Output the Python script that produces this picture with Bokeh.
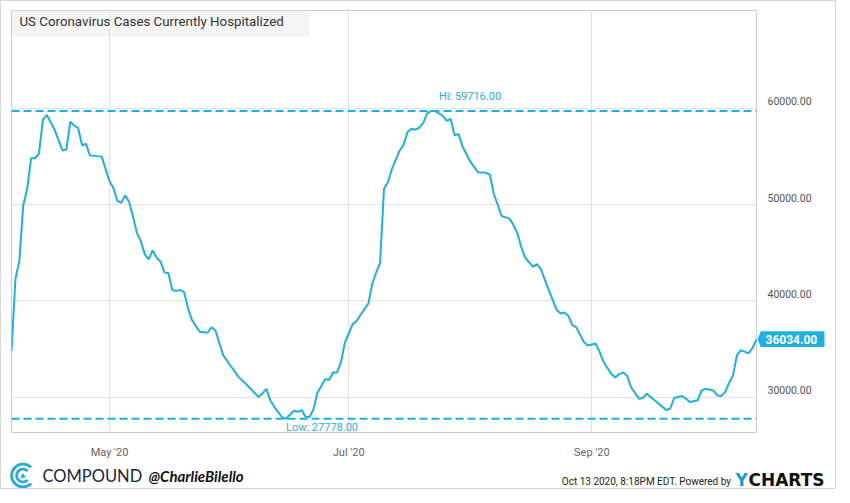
import numpy as np
import pandas as pd
from bokeh.plotting import figure
from bokeh.layouts import row, column
from bokeh.models import (Range1d, LinearAxis, FixedTicker, DatetimeTickFormatter,
                          PrintfTickFormatter, Span, Label, BoxAnnotation, PolyAnnotation,
                          ColumnDataSource)
from bokeh.embed import file_html
from bokeh.resources import INLINE

# ---------------- data ----------------
dates = [
    "2020-04-06", "2020-04-07", "2020-04-08", "2020-04-09", "2020-04-10", "2020-04-11",
    "2020-04-12", "2020-04-13", "2020-04-14", "2020-04-15", "2020-04-17", "2020-04-19",
    "2020-04-20", "2020-04-21", "2020-04-22", "2020-04-23", "2020-04-24", "2020-04-25",
    "2020-04-26", "2020-04-29", "2020-05-01", "2020-05-02", "2020-05-03", "2020-05-04",
    "2020-05-05", "2020-05-06", "2020-05-07", "2020-05-08", "2020-05-09", "2020-05-10",
    "2020-05-11", "2020-05-12", "2020-05-13", "2020-05-14", "2020-05-15", "2020-05-16",
    "2020-05-17", "2020-05-18", "2020-05-19", "2020-05-20", "2020-05-21", "2020-05-22",
    "2020-05-24", "2020-05-26", "2020-05-27", "2020-05-28", "2020-05-29", "2020-05-30",
    "2020-06-01", "2020-06-03", "2020-06-05", "2020-06-08", "2020-06-09", "2020-06-10",
    "2020-06-11", "2020-06-12", "2020-06-14", "2020-06-15", "2020-06-17", "2020-06-18",
    "2020-06-19", "2020-06-20", "2020-06-21", "2020-06-22", "2020-06-23", "2020-06-25",
    "2020-06-26", "2020-06-27", "2020-06-28", "2020-06-29", "2020-06-30", "2020-07-02",
    "2020-07-03", "2020-07-04", "2020-07-06", "2020-07-07", "2020-07-08", "2020-07-09",
    "2020-07-10", "2020-07-11", "2020-07-12", "2020-07-14", "2020-07-15", "2020-07-16",
    "2020-07-17", "2020-07-18", "2020-07-19", "2020-07-20", "2020-07-21", "2020-07-22",
    "2020-07-23", "2020-07-25", "2020-07-26", "2020-07-27", "2020-07-28", "2020-07-29",
    "2020-07-30", "2020-08-01", "2020-08-02", "2020-08-03", "2020-08-05", "2020-08-06",
    "2020-08-07", "2020-08-09", "2020-08-11", "2020-08-12", "2020-08-13", "2020-08-14",
    "2020-08-15", "2020-08-17", "2020-08-18", "2020-08-19", "2020-08-21", "2020-08-23",
    "2020-08-24", "2020-08-25", "2020-08-26", "2020-08-27", "2020-08-28", "2020-08-30",
    "2020-08-31", "2020-09-02", "2020-09-03", "2020-09-04", "2020-09-06", "2020-09-07",
    "2020-09-08", "2020-09-09", "2020-09-10", "2020-09-11", "2020-09-13", "2020-09-14",
    "2020-09-15", "2020-09-18", "2020-09-20", "2020-09-21", "2020-09-22", "2020-09-24",
    "2020-09-25", "2020-09-26", "2020-09-28", "2020-09-29", "2020-09-30", "2020-10-02",
    "2020-10-03", "2020-10-04", "2020-10-05", "2020-10-06", "2020-10-07", "2020-10-08",
    "2020-10-09", "2020-10-11", "2020-10-12", "2020-10-13",
]
values = [
    34800, 42280, 44150, 49930, 51630, 54800,
    54800, 55270, 58780, 59290, 57755, 55610,
    55710, 58600, 58200, 57920, 56150, 56290,
    55100, 54970, 52420, 51700, 50370, 50170,
    50950, 50270, 48740, 47040, 46190, 44830,
    44320, 45240, 44490, 44080, 42960, 42890,
    41150, 41020, 41150, 40920, 39290, 38030,
    36800, 36700, 37270, 36940, 35640, 34360,
    33200, 32070, 31300, 30030, 30400, 30880,
    29690, 29010, 27930, 27778, 28600, 28500,
    28670, 27990, 27950, 28740, 30440, 31910,
    31800, 32580, 32580, 33600, 35640, 37580,
    37920, 38540, 39720, 41760, 42960, 43910,
    51630, 52310, 53670, 55610, 56220, 57520,
    57860, 57760, 57990, 58440, 59460, 59700,
    59716, 59210, 58670, 58880, 57180, 57320,
    56050, 54460, 53910, 53340, 53300, 53090,
    51120, 48810, 48540, 47890, 47040, 45600,
    44490, 43540, 43810, 43300, 41150, 39110,
    38700, 38800, 38470, 37520, 37280, 35710,
    35370, 35580, 34690, 33670, 32410, 32070,
    32410, 32580, 32240, 31050, 29860, 29930,
    30380, 29350, 28670, 28840, 29930, 30130,
    29860, 29520, 29690, 30710, 30880, 30710,
    30200, 30130, 30540, 31500, 32240, 34360,
    34900, 34560, 35130, 36034,
]
x_tick_dates = ["2020-05-01", "2020-07-01", "2020-09-01"]
y_ticks = [30000, 40000, 50000, 60000]
x_start, x_end = "2020-04-06", "2020-10-13"
y_start, y_end = 26350, 70130
title_text = "US Coronavirus Cases Currently Hospitalized"
footer_brand = "COMPOUND"
footer_handle = "@CharlieBilello"
footer_stamp = "Oct 13 2020, 8:18PM EDT.  Powered by"

# ---------------- styles / layout ----------------
BLUE = "#1fb0e2"
FONT = "Roboto"
TOTAL_W = 834
MAIN_W, STRIP_W = 756, 78
TOP_H, FOOT_H = 460, 27
FL, FT, FR, FB = 10, 9, 1, 23
frame_h = TOP_H - FT - FB
upp = (y_end - y_start) / frame_h       # data units per pixel

dt = pd.to_datetime(dates)
src = ColumnDataSource(dict(date=dt, value=values))
yr = Range1d(y_start, y_end)

p = figure(width=MAIN_W, height=TOP_H, output_backend="svg", toolbar_location=None,
           x_axis_type="datetime", y_axis_location=None,
           x_range=Range1d(pd.Timestamp(x_start), pd.Timestamp(x_end)), y_range=yr,
           min_border_left=FL, min_border_top=FT, min_border_right=FR, min_border_bottom=FB)
p.background_fill_color = "white"
p.border_fill_color = "white"
p.outline_line_color = "#cccccc"
p.outline_line_width = 1

xt = [pd.Timestamp(d).value // 10**6 for d in x_tick_dates]
p.xaxis.ticker = FixedTicker(ticks=xt)
fmt = "%b '%y"
p.xaxis.formatter = DatetimeTickFormatter(days=fmt, months=fmt, years=fmt, hours=fmt)
p.xaxis.axis_line_color = None
p.xaxis.major_tick_line_color = None
p.xaxis.minor_tick_line_color = None
p.xaxis.major_label_text_font = FONT
p.xaxis.major_label_text_font_size = "11px"
p.xaxis.major_label_text_color = "#666666"
p.xaxis.major_label_standoff = 7

p.xgrid.ticker = FixedTicker(ticks=xt)
p.ygrid.ticker = FixedTicker(ticks=y_ticks)
for g in (p.xgrid, p.ygrid):
    g.grid_line_color = "#e3e3e3"
    g.grid_line_width = 1

# title box inside the plot area
p.add_layout(BoxAnnotation(left=0, right=298, top=frame_h - 1, bottom=frame_h - 32,
                           left_units="screen", right_units="screen",
                           top_units="screen", bottom_units="screen",
                           fill_color="#e6e6e6", fill_alpha=0.4, line_color=None))
p.add_layout(Label(x=8, y=frame_h - 17, x_units="screen", y_units="screen",
                   text=title_text, text_font=FONT, text_font_size="13.3px",
                   text_color="#333333", text_baseline="middle"))

# hi / low
vals = np.array(values)
i_hi, i_lo = int(vals.argmax()), int(vals.argmin())
hi_v, lo_v = values[i_hi], values[i_lo]
hi_x = pd.Timestamp(dates[i_hi]).value / 1e6
lo_x = pd.Timestamp(dates[i_lo]).value / 1e6
for v in (hi_v, lo_v):
    p.add_layout(Span(location=v, dimension="width", line_color=BLUE,
                      line_width=2, line_dash="8 4"))
p.add_layout(Label(x=hi_x, y=hi_v, x_offset=4, y_offset=14, text=f"Hi: {hi_v:.2f}",
                   text_font=FONT, text_font_size="11px", text_color=BLUE,
                   text_baseline="middle"))
p.add_layout(Label(x=lo_x, y=lo_v, x_offset=0, y_offset=-9, text=f"Low: {lo_v:.2f}",
                   text_font=FONT, text_font_size="11px", text_color=BLUE,
                   text_baseline="middle"))

p.line(x="date", y="value", source=src, line_color=BLUE, line_width=2)

# ---------------- right strip: value axis + last value tag ----------------
s = figure(width=STRIP_W, height=TOP_H, output_backend="svg", toolbar_location=None,
           x_axis_location=None, y_axis_location=None,
           x_range=Range1d(0, STRIP_W), y_range=yr,
           min_border_left=0, min_border_top=FT, min_border_right=0, min_border_bottom=FB)
s.outline_line_color = None
s.grid.visible = False
s.background_fill_color = "white"
s.border_fill_color = "white"
shift = 7 * upp   # labels sit a little above their grid lines
s.extra_y_ranges = {"lbl": Range1d(y_start - shift, y_end - shift)}
yax = LinearAxis(y_range_name="lbl", ticker=FixedTicker(ticks=y_ticks),
                 formatter=PrintfTickFormatter(format="%.2f"), fixed_location=0)
yax.axis_line_color = None
yax.major_tick_line_color = None
yax.minor_tick_line_color = None
yax.major_label_text_font = FONT
yax.major_label_text_font_size = "10.5px"
yax.major_label_text_color = "#555555"
yax.major_label_standoff = 4
s.add_layout(yax, "right")

last = values[-1]
s.add_layout(BoxAnnotation(left=3, right=67, left_units="screen", right_units="screen",
                           top=last + 8 * upp, bottom=last - 8 * upp,
                           fill_color=BLUE, fill_alpha=1, line_color=None))
s.add_layout(PolyAnnotation(xs=[0, 3.5, 3.5], xs_units="screen",
                            ys=[last, last + 8 * upp, last - 8 * upp], ys_units="data",
                            fill_color=BLUE, fill_alpha=1, line_color=None))
s.add_layout(Label(x=8, y=last, x_units="screen", text=f"{last:.2f}",
                   text_font=FONT, text_font_size="12px", text_font_style="bold",
                   text_color="white", text_baseline="middle"))

# ---------------- footer ----------------
f = figure(width=TOTAL_W, height=FOOT_H, output_backend="svg", toolbar_location=None,
           x_axis_location=None, y_axis_location=None,
           x_range=Range1d(0, TOTAL_W), y_range=Range1d(0, FOOT_H),
           min_border_left=0, min_border_top=0, min_border_right=0, min_border_bottom=0)
f.outline_line_color = None
f.grid.visible = False
f.background_fill_color = "white"
f.border_fill_color = "white"

cx, cy = 21.5, 13.0
def ring(r_out, r_in, a0=45, a1=315, n=40):
    a = np.radians(np.linspace(a0, a1, n))
    xs = np.concatenate([cx + r_out * np.cos(a), cx + r_in * np.cos(a[::-1])])
    ys = np.concatenate([cy + r_out * np.sin(a), cy + r_in * np.sin(a[::-1])])
    return list(xs), list(ys)
for ro, ri in ((12.8, 9.9), (7.8, 5.0)):
    xs, ys = ring(ro, ri)
    f.add_layout(PolyAnnotation(xs=xs, ys=ys, xs_units="screen", ys_units="screen",
                                fill_color="#2aa9dc", fill_alpha=1, line_color=None))
f.add_layout(PolyAnnotation(xs=[cx - 2.8, cx + 2.8, cx], ys=[cy - 2.3, cy - 2.3, cy + 2.5],
                            xs_units="screen", ys_units="screen",
                            fill_color="#2aa9dc", fill_alpha=1, line_color=None))
f.add_layout(Label(x=41, y=13, x_units="screen", y_units="screen", text=footer_brand,
                   text_font="Lato", text_font_size="16.5px", text_color="#1c2640",
                   text_baseline="middle"))
f.add_layout(Label(x=147, y=13, x_units="screen", y_units="screen", text=footer_handle,
                   text_font="Lato", text_font_size="15px", text_font_style="bold italic",
                   text_color="#111111", text_baseline="middle"))
f.add_layout(Label(x=732, y=7.5, x_units="screen", y_units="screen", text=footer_stamp,
                   text_font=FONT, text_font_size="10px", text_color="#222222",
                   text_baseline="middle", text_align="right"))
f.add_layout(Label(x=734, y=9, x_units="screen", y_units="screen", text="Y",
                   text_font="DejaVu Sans", text_font_size="17px", text_font_style="bold",
                   text_color="#1a9ad6", text_baseline="middle"))
f.add_layout(Label(x=747, y=9, x_units="screen", y_units="screen", text="CHARTS",
                   text_font="DejaVu Sans", text_font_size="17px", text_font_style="bold",
                   text_color="#111111", text_baseline="middle"))

layout = column(row(p, s), f, styles={"border": "1px solid #d8d8d8"})
open("out.html", "w").write(file_html(layout, INLINE))
